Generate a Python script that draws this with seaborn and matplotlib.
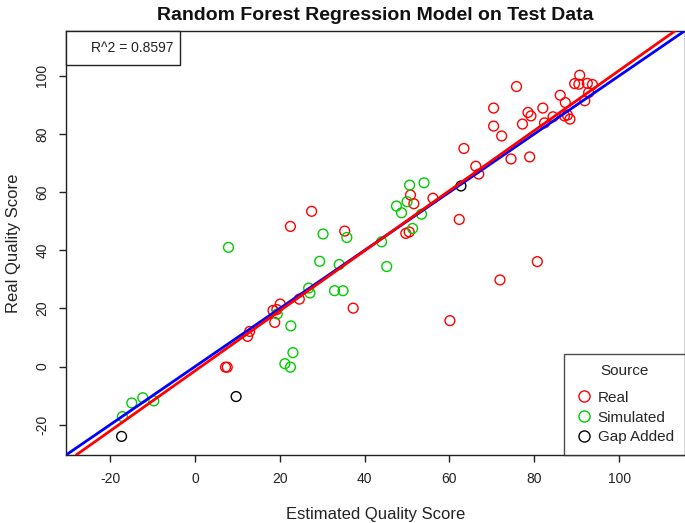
import matplotlib
matplotlib.use("Agg")
import matplotlib.pyplot as plt
from matplotlib.lines import Line2D
from matplotlib.patches import Rectangle
import seaborn as sns
import pandas as pd

# ---- data ----
real_est = [27.5, 22.5, 35.3, 37.3, 24.6, 18.4, 19.3, 20.1, 18.8, 12.9, 12.4, 7.2, 7.6,
            90.7, 89.5, 90.5, 92.5, 93.7, 75.8, 92.8, 86.1, 87.3, 91.9, 70.4, 82.0, 78.5,
            79.2, 84.4, 87.1, 87.8, 88.4, 77.2, 82.4, 70.4, 72.3, 63.4, 74.5, 78.9, 66.2,
            66.9, 50.8, 56.1, 51.6, 62.3, 49.7, 50.5, 71.9, 80.7, 60.1]
real_obs = [53.4, 48.2, 46.6, 20.1, 23.2, 19.3, 19.6, 21.5, 15.2, 12.1, 10.4, -0.2, -0.2,
            100.2, 97.3, 97.1, 97.4, 97.0, 96.3, 94.2, 93.3, 90.8, 91.4, 88.9, 88.9, 87.4,
            86.2, 85.9, 86.2, 86.5, 85.1, 83.4, 83.8, 82.7, 79.3, 75.0, 71.4, 72.1, 68.9,
            66.2, 59.0, 57.9, 56.0, 50.6, 45.8, 46.3, 29.8, 36.1, 15.8]

sim_est = [30.2, 35.8, 7.9, 29.4, 34.0, 26.8, 27.1, 32.9, 34.9, 19.4, 22.6, 23.1, 21.2,
           22.5, -14.9, -12.3, -9.7, -17.1, 50.6, 54.0, 50.0, 47.5, 48.7, 53.4, 51.3,
           44.0, 45.2]
sim_obs = [45.6, 44.4, 41.0, 36.2, 35.1, 27.0, 25.3, 26.1, 26.1, 18.1, 14.0, 4.8, 1.0,
           -0.2, -12.5, -10.7, -11.8, -17.2, 62.4, 63.2, 56.7, 55.2, 52.9, 52.4, 47.5,
           42.9, 34.4]

gap_est = [-17.3, 9.7, 62.7]
gap_obs = [-24.0, -10.3, 62.1]

sources = ["Real", "Simulated", "Gap Added"]
source_colors = ["#FF0000", "#00CD00", "#000000"]

fit_intercept = -1.47
fit_slope = 1.033
r_squared = "0.8597"

x_ticks = [-20, 0, 20, 40, 60, 80, 100]
y_ticks = [-20, 0, 20, 40, 60, 80, 100]

df = pd.DataFrame({
    "Estimated": real_est + sim_est + gap_est,
    "Observed": real_obs + sim_obs + gap_obs,
    "Source": ["Real"] * len(real_est) + ["Simulated"] * len(sim_est) + ["Gap Added"] * len(gap_est),
})

# ---- plotting ----
sns.set_theme(style="white")
plt.rcParams["font.family"] = ["Liberation Sans", "DejaVu Sans"]

fig = plt.figure(figsize=(6.85, 5.23), dpi=100)
ax = fig.add_axes([66 / 685, 1 - 455 / 523, 618.5 / 685, 424 / 523])

palette = dict(zip(sources, source_colors))
sns.scatterplot(data=df, x="Estimated", y="Observed", hue="Source", hue_order=sources,
                palette=palette, s=50, linewidth=1.0, legend=False, ax=ax, zorder=3)
coll = ax.collections[0]
fc = coll.get_facecolors()
coll.set_edgecolors(fc)
coll.set_facecolors("none")

ax.axline((0, 0), slope=1, color="#0000FF", lw=2.0, zorder=4)
ax.axline((0, fit_intercept), slope=fit_slope, color="#FF0000", lw=2.0, zorder=5)

ax.set_xlim(-30.4, 115.4)
ax.set_ylim(-30.4, 115.4)
ax.set_xticks(x_ticks)
ax.set_yticks(y_ticks)
ax.set_xticklabels([str(t) for t in x_ticks], fontsize=10, color="#222222")
ax.set_yticklabels([str(t) for t in y_ticks], fontsize=10, rotation=90, va="center",
                   color="#222222")
ax.tick_params(axis="both", direction="out", length=5, width=1, color="#222222",
               bottom=True, left=True, pad=7)
for sp in ax.spines.values():
    sp.set_color("#222222")
    sp.set_linewidth(1.0)

ax.set_xlabel("Estimated Quality Score", fontsize=12, labelpad=15, color="#222222")
ax.set_ylabel("Real Quality Score", fontsize=12, labelpad=10, color="#222222")
ax.set_title("Random Forest Regression Model on Test Data", fontsize=14,
             fontweight="bold", pad=8, color="#111111")

# R^2 box
ax.add_patch(Rectangle((0, 1 - 34 / 424), 114 / 618, 34 / 424, transform=ax.transAxes,
                       facecolor="white", edgecolor="#222222", lw=1.0, zorder=6,
                       clip_on=False))
ax.text(107 / 618, 1 - 17 / 424, "R^2 = " + r_squared, transform=ax.transAxes,
        ha="right", va="center", fontsize=10, color="#222222", zorder=7)

# legend
handles = [Line2D([0], [0], marker="o", linestyle="none", markerfacecolor="none",
                  markeredgecolor=c, markersize=8, markeredgewidth=1.0)
           for c in source_colors]
leg = ax.legend(handles, sources, title="Source", loc="lower right", borderaxespad=0,
                fontsize=11, title_fontsize=11, frameon=True, fancybox=False,
                handletextpad=0.3, borderpad=0.7, labelspacing=0.38, handlelength=1.2)
leg.get_frame().set_edgecolor("#222222")
leg.get_frame().set_linewidth(1.0)
leg.set_zorder(8)
try:
    leg._legend_box.sep = 9
except Exception:
    pass

fig.savefig("out.png", dpi=100)
